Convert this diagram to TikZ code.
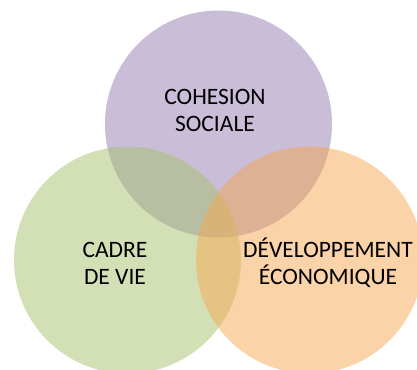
\documentclass[tikz,border=0pt]{standalone}
\usepackage{fontspec}
\setmainfont{Carlito}
\usepackage{xcolor}
\usepackage{tikz}

\definecolor{cohesionC}{RGB}{147,123,177}
\definecolor{cadreC}{RGB}{167,193,109}
\definecolor{devC}{RGB}{247,167,81}

\begin{document}
\begin{tikzpicture}[
    x=1pt,y=-1pt,
    venn/.style={circle,minimum size=227pt,inner sep=0pt,fill opacity=0.5,text opacity=1},
    lbl/.style={align=center,font=\fontsize{23.5}{27}\selectfont,inner sep=0pt}
  ]
    \useasboundingbox (0,0) rectangle (417,369);
    \node[venn,fill=cohesionC] (cohesion) at (218.5,124) {};
    \node[venn,fill=cadreC] (cadre) at (127.5,260) {};
    \node[venn,fill=devC] (dev) at (309.5,260) {};
    \node[lbl] (cohesiontxt) at (215,110) {COHESION\\SOCIALE};
    \node[lbl] (cadretxt) at (115,263) {CADRE\\DE VIE};
    \node[lbl] (devtxt) at (328,263) {DÉVELOPPEMENT\\ÉCONOMIQUE};
  \end{tikzpicture}
\end{document}
